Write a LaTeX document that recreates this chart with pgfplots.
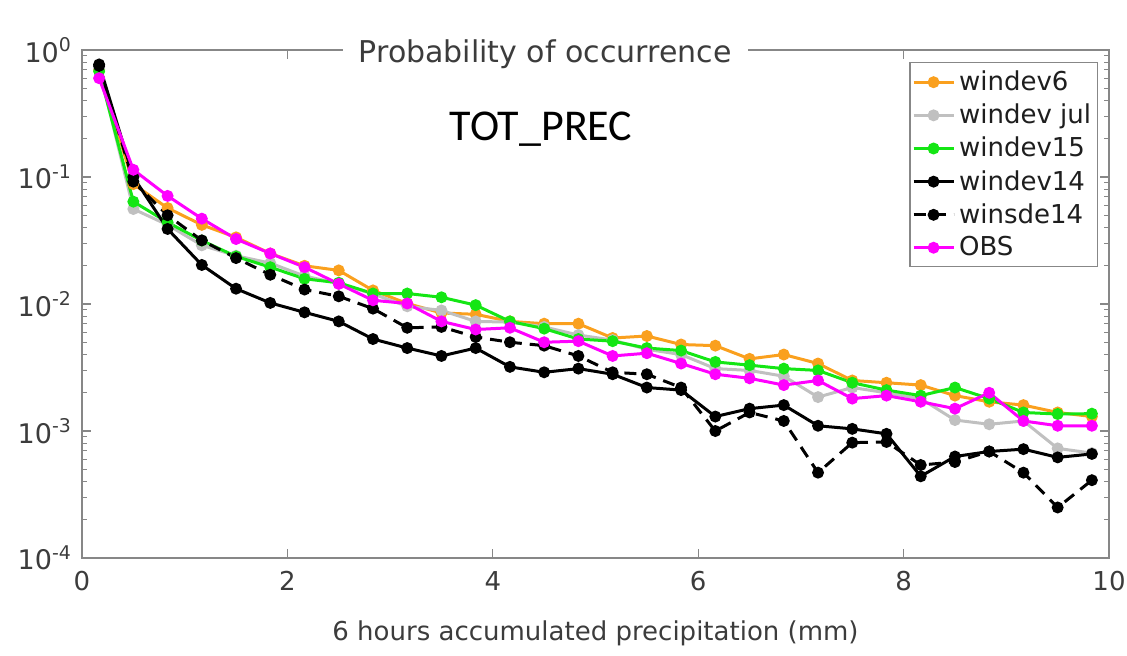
\documentclass[border=0pt]{standalone}
\usepackage{fontspec}
\setmainfont{DejaVu Sans}
\newfontfamily\carlito{Carlito}
\usepackage{pgfplots}
\usepackage{pgfplotstable}
\pgfplotsset{compat=1.18}

\definecolor{axgray}{RGB}{135,135,135}
\definecolor{txtgray}{RGB}{60,60,60}
\definecolor{legtxt}{RGB}{30,30,30}
\definecolor{cOrange}{RGB}{250,160,30}
\definecolor{cGray}{RGB}{192,192,192}
\definecolor{cGreen}{RGB}{20,230,20}
\definecolor{cMagenta}{RGB}{255,0,255}

% probability of occurrence per 1/3 mm bin (bin centres in mm)
\pgfplotstableread{
x       w6      wjul     w15     w14      s14      obs
0.1667  0.70    0.72     0.68    0.77     0.75     0.60
0.5     0.088   0.056    0.064   0.100    0.092    0.114
0.8333  0.057   0.042    0.044   0.039    0.050    0.071
1.1667  0.042   0.029    0.0316  0.0203   0.0317   0.047
1.5     0.0335  0.024    0.0237  0.0132   0.023    0.0325
1.8333  0.025   0.021    0.0195  0.0102   0.017    0.025
2.1667  0.020   0.0166   0.0158  0.0086   0.013    0.0195
2.5     0.0184  0.0145   0.0147  0.0073   0.0115   0.0144
2.8333  0.0128  0.012    0.0121  0.0053   0.0092   0.0107
3.1667  0.0101  0.0096   0.0121  0.0045   0.0065   0.0101
3.5     0.0085  0.0089   0.0113  0.0039   0.0066   0.0073
3.8333  0.0083  0.0073   0.0098  0.0045   0.0055   0.0063
4.1667  0.0073  0.0072   0.0073  0.0032   0.0050   0.0065
4.5     0.0070  0.0066   0.0064  0.0029   0.0047   0.0050
4.8333  0.0070  0.0057   0.0053  0.0031   0.0039   0.0051
5.1667  0.0054  0.0052   0.0051  0.0028   0.0029   0.0039
5.5     0.0056  0.0044   0.0045  0.0022   0.0028   0.0041
5.8333  0.0048  0.0040   0.0043  0.0021   0.0022   0.0034
6.1667  0.0047  0.0031   0.0035  0.0013   0.0010   0.0028
6.5     0.0037  0.0030   0.0033  0.0015   0.0014   0.0026
6.8333  0.0040  0.0027   0.0031  0.0016   0.0012   0.0023
7.1667  0.0034  0.00185  0.0030  0.0011   0.00047  0.0025
7.5     0.0025  0.0022   0.0024  0.00104  0.00081  0.0018
7.8333  0.0024  0.0020   0.0021  0.00095  0.00082  0.0019
8.1667  0.0023  0.0018   0.0019  0.00044  0.00054  0.0017
8.5     0.0019  0.00122  0.0022  0.00063  0.00057  0.0015
8.8333  0.0017  0.00113  0.0018  0.00069  0.00069  0.0020
9.1667  0.0016  0.0012   0.0014  0.00072  0.00047  0.0012
9.5     0.0014  0.00073  0.00136 0.00062  0.00025  0.0011
9.8333  0.0013  0.00067  0.00137 0.00066  0.00041  0.0011
}\probdata

\begin{document}
\begin{tikzpicture}
\useasboundingbox (-41pt,-48.5pt) rectangle (522.5pt,279pt);
\begin{axis}[
  scale only axis,
  width=513.5pt, height=254pt,
  xmin=0, xmax=10,
  ymode=log, ymin=1e-4, ymax=1,
  clip=false,
  xtick={0,2,4,6,8,10},
  ytick={1e-4,1e-3,1e-2,1e-1,1},
  yticklabels={10\textsuperscript{-4},10\textsuperscript{-3},10\textsuperscript{-2},10\textsuperscript{-1},10\textsuperscript{0}},
  minor ytick={2e-4,3e-4,4e-4,5e-4,6e-4,7e-4,8e-4,9e-4,
               2e-3,3e-3,4e-3,5e-3,6e-3,7e-3,8e-3,9e-3,
               2e-2,3e-2,4e-2,5e-2,6e-2,7e-2,8e-2,9e-2,
               2e-1,3e-1,4e-1,5e-1,6e-1,7e-1,8e-1,9e-1},
  tick align=inside,
  xtick pos=both, ytick pos=both,
  major tick length=4.5pt, minor tick length=2.5pt,
  axis line style={draw=axgray, line width=0.7pt},
  every tick/.style={draw=axgray, line width=0.6pt},
  /pgf/number format/assume math mode=true,
  ticklabel style={font=\fontsize{13}{15}\selectfont, text=txtgray},
  xticklabel style={yshift=-3pt},
  yticklabel style={font=\fontsize{13.5}{15}\selectfont, xshift=-1.5pt},
  xlabel={6 hours accumulated precipitation (mm)},
  xlabel style={at={(axis description cs:0.5,0)}, anchor=center, yshift=-37.5pt,
                font=\fontsize{13}{15}\selectfont, text=txtgray},
  legend style={at={(0.989,0.976)}, anchor=north east,
                draw=axgray, line width=0.6pt, fill=white,
                font=\fontsize{13}{15}\selectfont, text=legtxt,
                row sep=1.2pt, inner xsep=1pt, inner ysep=2pt},
  legend cell align=left,
  legend image code/.code={\draw[mark repeat=2,mark phase=2] plot coordinates {(0pt,0pt) (10pt,0pt) (20pt,0pt)};},
  every axis plot/.append style={line width=1.5pt, mark=*, mark size=2.2pt},
]
\addplot[cOrange, mark options={fill=cOrange}] table[x=x, y=w6] {\probdata};
\addlegendentry{windev6}
\addplot[cGray, mark options={fill=cGray}] table[x=x, y=wjul] {\probdata};
\addlegendentry{windev jul}
\addplot[cGreen, mark options={fill=cGreen}] table[x=x, y=w15] {\probdata};
\addlegendentry{windev15}
\addplot[black, mark options={fill=black}] table[x=x, y=w14] {\probdata};
\addlegendentry{windev14}
\addplot[black, dash pattern=on 6pt off 4pt, mark options={fill=black, solid}] table[x=x, y=s14] {\probdata};
\addlegendentry{winsde14}
\addplot[cMagenta, mark options={fill=cMagenta}] table[x=x, y=obs] {\probdata};
\addlegendentry{OBS}

\node[fill=white, inner xsep=8pt, inner ysep=3pt, anchor=base,
      font=\fontsize{15}{17}\selectfont, text=txtgray]
  at (rel axis cs:0.451,0.9764) {Probability of occurrence};
\node[anchor=base, font=\carlito\fontsize{22}{26}\selectfont]
  at (rel axis cs:0.447,0.8215) {TOT\_PREC};
\end{axis}
\end{tikzpicture}
\end{document}
